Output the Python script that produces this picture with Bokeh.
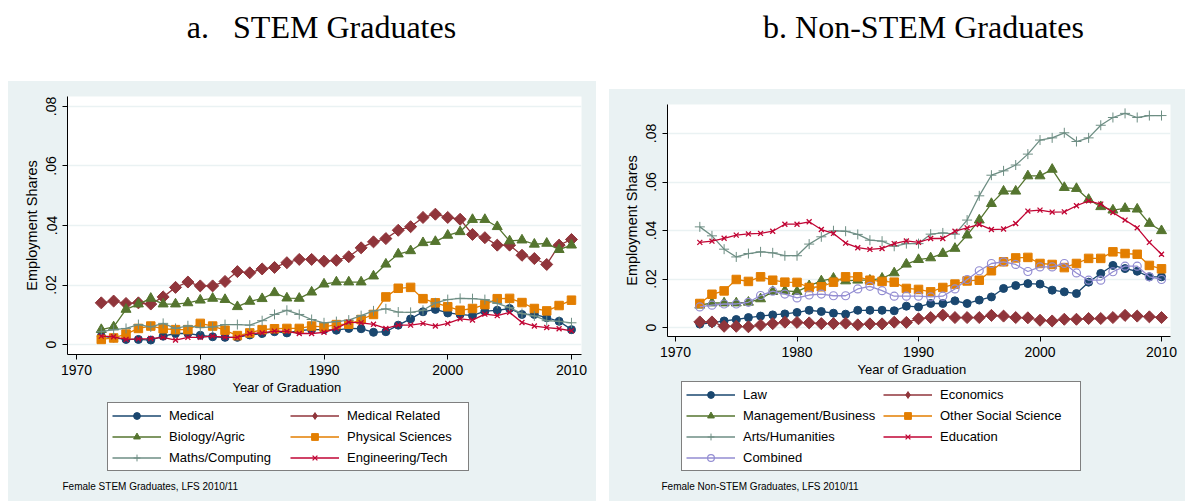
import math
from bokeh.plotting import figure
from bokeh.models import (Range1d, FixedTicker, Legend, LegendItem, Label, Spacer, Title)
from bokeh.layouts import row, column
from bokeh.embed import file_html
from bokeh.resources import INLINE

years = list(range(1972, 2011))

# ---- Panel a: STEM graduates ----
medical = [.0028, .0022, .0017, .0017, .0015, .0028, .0037, .0037, .0031, .0026, .0024, .0024, .0032, .0037, .0043, .0039,
           .0047,
           .005, .005, .0048, .0054, .0053, .0041, .0043, .0065, .0086, .011, .0118, .0106, .0101, .0097, .0112, .0115,
           .0121, .0101, .0101, .009, .0078, .005]
medical_related = [.014, .0146, .0138, .014, .0136, .016, .0192, .021, .0197, .0197, .0212, .0245, .0241, .0254, .0259, .0275,
                   .0286,
                   .0286, .028, .0283, .0295, .0325, .0345, .0356, .0384, .0396, .0427, .0438, .0427, .0421, .037, .0359,
                   .0334, .0334, .030, .0289, .0269, .0334, .0353]
biology = [.005, .0059, .0118, .0136, .0155, .0136, .0136, .014, .0149, .0155, .0151, .0127, .0145, .0154, .0174, .0156,
           .0155,
           .0176, .0203, .021, .021, .021, .023, .027, .0304, .0315, .0342, .0346, .0367, .0379, .042, .042, .0396,
           .0348, .0351, .0337, .034, .0319, .0334]
physical = [.0017, .0022, .0035, .0054, .0062, .0053, .005, .005, .0071, .0062, .0048, .003, .0039, .005, .0053, .0054,
            .0054,
            .0062, .0059, .0067, .0068, .0084, .0101, .016, .0189, .0192, .0154, .014, .0127, .0115, .0121, .0134, .0154,
            .0155, .0141, .0121, .0113, .0131, .0149]
maths = [.0043, .005, .0054, .0067, .0059, .0071, .0054, .0063, .0057, .0059, .0067, .0067, .0065, .008, .0101, .0115,
         .0101,
         .0084, .0073, .0077, .0082, .0097, .0113, .012, .0109, .0108, .0115, .014, .0151, .0155, .0154, .0151, .0138,
         .0124, .0104, .0096, .008, .0078, .0073]
engineering = [.0028, .0026, .0017, .0019, .002, .0024, .0015, .0024, .0024, .0028, .0024, .0024, .0037, .0039, .0045, .0044,
               .0037,
               .0037, .0041, .0054, .0075, .0073, .0068, .0054, .0065, .0065, .0071, .0062, .0071, .0086, .0082, .0102,
               .0097, .0108, .0074, .0062, .0057, .0053, .0046]

# ---- Panel b: Non-STEM graduates ----
law = [.0014, .0019, .0027, .0033, .0041, .0047, .0052, .0056, .0062, .0071, .0066, .0059, .0055, .0071, .0071, .0071,
       .0069,
       .0088, .0085, .0099, .0099, .011, .0099, .0113, .0126, .0161, .0173, .0181, .0179, .0154, .0147, .014, .0187,
       .0223, .0256, .0243, .0232, .0209, .0209]
economics = [.0023, .0023, .0005, .0005, .0003, .001, .0016, .0022, .0021, .0019, .0016, .0016, .0018, .0011, .0015, .0015,
             .0022,
             .0021, .0036, .0041, .0051, .0041, .0041, .0041, .005, .0047, .0041, .004, .003, .0027, .0034, .0034, .0037,
             .0037, .0041, .005, .0047, .0044, .0041]
management = [.0092, .0101, .0101, .0101, .0104, .0118, .0148, .0151, .0148, .0172, .0192, .0203, .0192, .0195, .0195, .0203,
              .0225,
              .0261, .028, .0287, .0305, .0326, .0381, .0443, .0511, .0562, .0562, .0625, .0625, .0652, .0577, .0573,
              .0528, .0498, .0484, .0491, .0488, .0429, .0399]
other_social = [.0099, .0137, .0151, .0198, .019, .0209, .0195, .0187, .0186, .0165, .0168, .0187, .0209, .0209, .0195, .019,
                .0187,
                .0161, .0157, .0147, .0165, .0179, .0192, .0195, .0234, .0271, .0287, .0289, .0264, .026, .0247, .0264,
                .0285, .0285, .0312, .0305, .0302, .0256, .0242]
arts = [.0415, .0378, .0323, .0291, .0305, .0312, .0308, .0296, .0296, .0344, .0374, .0399, .0397, .0384, .036, .0356,
        .0335,
        .0346, .0346, .0385, .039, .0385, .0443, .0543, .0628, .0646, .067, .0715, .0773, .0782, .0803, .0767, .0782,
        .0834, .0866, .0883, .0866, .0874, .0874]
education = [.0351, .0356, .0368, .0381, .0386, .0388, .0397, .0426, .0426, .0436, .0404, .0388, .0348, .0329, .0322, .0326,
             .0346,
             .0357, .0351, .0367, .0367, .0397, .0411, .0425, .0404, .0406, .0429, .048, .0484, .0476, .0477, .0502,
             .0522, .0509, .0474, .0443, .0411, .0351, .0302]
combined = [.0085, .0092, .0097, .0097, .0104, .0132, .015, .0138, .0122, .0134, .0138, .0131, .0131, .0159, .017, .0152,
            .0129,
            .0129, .0129, .0126, .0129, .0159, .0198, .0234, .0264, .0271, .026, .0231, .025, .025, .0264, .0225, .0195,
            .0195, .023, .0253, .0253, .0209, .0198]

x_ticks = [1970, 1980, 1990, 2000, 2010]
y_ticks = [0, 0.02, 0.04, 0.06, 0.08]
y_tick_labels = ["0", ".02", ".04", ".06", ".08"]

NAVY, MAROON, GREEN, ORANGE, TEAL, CRAN, LAV = "#1A476F", "#90353B", "#55752F", "#E37E00", "#6E8E84", "#C10534", "#938DD2"
BG = "#EAF2F3"
FONT = "Liberation Sans"

styles = {
    "circle": dict(marker="circle", size=8),
    "diamond": dict(marker="square", size=8.5, angle=math.pi / 4),
    "triangle": dict(marker="triangle", size=10),
    "square": dict(marker="square", size=8.5),
    "plus": dict(marker="cross", size=10, line_width=1),
    "x": dict(marker="x", size=7, line_width=1.3),
    "hollow": dict(marker="circle", size=8, line_width=1.2, fill_alpha=0),
}
legend_styles = {
    "circle": dict(marker="circle", size=7),
    "diamond": dict(marker="diamond", size=12),
    "triangle": dict(marker="triangle", size=9),
    "square": dict(marker="square", size=8),
    "plus": dict(marker="cross", size=9, line_width=1),
    "x": dict(marker="x", size=6, line_width=1.3),
    "hollow": dict(marker="circle", size=7, line_width=1.2, fill_alpha=0),
}


def draw_series(fig, vals, color, st, table):
    rl = fig.line(years, vals, line_color=color, line_width=1.3)
    kw = dict(table[st])
    kw.setdefault("line_width", 1)
    rs = fig.scatter(years, vals, line_color=color, fill_color=color, **kw)
    return rl, rs


def panel(width, height, left, bottom, xr, yr, series, xtitle_off):
    p = figure(width=width, height=height, output_backend="svg", toolbar_location=None,
               x_range=Range1d(*xr), y_range=Range1d(*yr),
               min_border_left=left, min_border_right=15, min_border_top=15, min_border_bottom=bottom,
               styles={"background-color": BG})
    p.border_fill_color = BG
    p.background_fill_color = "white"
    p.outline_line_color = None
    p.xgrid.visible = False
    p.ygrid.ticker = FixedTicker(ticks=y_ticks)
    p.ygrid.grid_line_color = BG
    p.ygrid.grid_line_width = 1.5
    p.xaxis.ticker = FixedTicker(ticks=x_ticks)
    p.yaxis.ticker = FixedTicker(ticks=y_ticks)
    p.yaxis.major_label_overrides = {t: l for t, l in zip(y_ticks, y_tick_labels)}
    p.yaxis.major_label_orientation = "vertical"
    p.yaxis.axis_label = "Employment Shares"
    p.yaxis.axis_label_text_font_size = "14.5px"
    for ax in p.axis:
        ax.axis_label_text_font = FONT
        ax.axis_label_text_font_style = "normal"
        ax.axis_label_text_color = "black"
        ax.major_label_text_font = FONT
        ax.major_label_text_font_size = "14px"
        ax.major_label_text_color = "black"
        ax.axis_line_color = "black"
        ax.major_tick_line_color = "black"
        ax.major_tick_out = 5
        ax.major_tick_in = 0
        ax.minor_tick_line_color = None
        ax.axis_label_standoff = 4
    p.yaxis.major_label_standoff = 6
    p.xaxis.major_label_standoff = 5
    for name, vals, color, st in series:
        draw_series(p, vals, color, st, styles)
    p.add_layout(Title(text="Year of Graduation", align="left", offset=xtitle_off, standoff=0,
                       text_font=FONT, text_font_size="13px", text_font_style="normal",
                       text_color="black"), "below")
    return p


def legend_fig(width, height, series, label_width, leg_x, note, note_off):
    # the series are drawn again here only as legend keys; the view range (0..1)
    # keeps them outside of this figure's visible area
    g = figure(width=width, height=height, output_backend="svg", toolbar_location=None,
               x_range=Range1d(0, 1), y_range=Range1d(0, 1),
               min_border_left=0, min_border_right=0, min_border_top=0, min_border_bottom=23,
               x_axis_location=None, y_axis_location=None,
               styles={"background-color": BG})
    g.grid.visible = False
    g.outline_line_color = None
    g.border_fill_color = BG
    g.background_fill_color = BG
    items = []
    for name, vals, color, st in series:
        rl, rs = draw_series(g, vals, color, st, legend_styles)
        items.append(LegendItem(label=name, renderers=[rl, rs]))
    leg = Legend(items=items, orientation="horizontal", ncols=2, location=(leg_x, 7),
                 label_text_font=FONT, label_text_font_size="13px", label_text_color="black",
                 glyph_width=49, glyph_height=17, label_height=17, label_width=label_width,
                 label_standoff=8, spacing=4, padding=4, margin=0,
                 border_line_color="black", border_line_width=1, background_fill_color="white",
                 background_fill_alpha=1)
    g.add_layout(leg, "center")
    g.add_layout(Title(text=note, align="left", offset=note_off, standoff=0,
                       text_font=FONT, text_font_size="10px", text_font_style="normal",
                       text_color="black"), "below")
    return g


def title_fig(width, height, text, cx, mid):
    t = figure(width=width, height=height, output_backend="svg", toolbar_location=None,
               x_range=Range1d(0, width), y_range=Range1d(0, height),
               min_border=0, x_axis_location=None, y_axis_location=None,
               styles={"background-color": "white"})
    t.grid.visible = False
    t.outline_line_color = None
    t.border_fill_color = "white"
    t.background_fill_color = "white"
    t.add_layout(Label(x=cx, y=height - mid, x_units="screen", y_units="screen", text=text,
                       text_font="Liberation Serif", text_font_size="32px", text_align="center",
                       text_baseline="middle", text_color="black"))
    return t


series_a = [("Medical", medical, NAVY, "circle"),
            ("Medical Related", medical_related, MAROON, "diamond"),
            ("Biology/Agric", biology, GREEN, "triangle"),
            ("Physical Sciences", physical, ORANGE, "square"),
            ("Maths/Computing", maths, TEAL, "plus"),
            ("Engineering/Tech", engineering, CRAN, "x")]
series_b = [("Law", law, NAVY, "circle"),
            ("Economics", economics, MAROON, "diamond"),
            ("Management/Business", management, GREEN, "triangle"),
            ("Other Social Science", other_social, ORANGE, "square"),
            ("Arts/Humanities", arts, TEAL, "plus"),
            ("Education", education, CRAN, "x"),
            ("Combined", combined, LAV, "hollow")]

pa = panel(588, 315, 59, 42, (1969.27, 2010.81), (-0.00336, 0.08336), series_a, 165)
pb = panel(576, 290, 58, 43, (1969.34, 2010.74), (-0.00371, 0.09196), series_b, 190)
la = legend_fig(588, 105, series_a, 117, 40, "Female STEM Graduates, LFS 2010/11", -5)
lb = legend_fig(576, 122, series_b, 136, 14, "Female Non-STEM Graduates, LFS 2010/11", -6)

ta = title_fig(588, 81, "a.\u00a0\u00a0\u00a0STEM Graduates", 254, 26)
tb = title_fig(576, 89, "b. Non-STEM Graduates", 256, 26)

layout = row(Spacer(width=8, height=501), column(ta, pa, la), Spacer(width=13, height=501), column(tb, pb, lb))

open("out.html", "w").write(file_html(layout, INLINE))
